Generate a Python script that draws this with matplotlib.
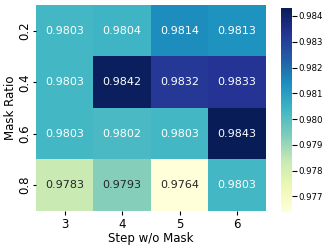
import numpy as np
import matplotlib
matplotlib.use('Agg')
import matplotlib.pyplot as plt
import seaborn as sns

# data
steps = ['3', '4', '5', '6']
ratios = ['0.2', '0.4', '0.6', '0.8']
row_02 = [0.9803, 0.9804, 0.9814, 0.9813]
row_04 = [0.9803, 0.9842, 0.9832, 0.9833]
row_06 = [0.9803, 0.9802, 0.9803, 0.9843]
row_08 = [0.9783, 0.9793, 0.9764, 0.9803]

vals = np.array([row_02, row_04, row_06, row_08])

fig = plt.figure(figsize=(3.32, 2.49), dpi=100)
ax = fig.add_axes([0.108, 0.153, 0.693, 0.827])
cax = fig.add_axes([0.847, 0.149, 0.034, 0.818])

sns.heatmap(vals, ax=ax, cbar_ax=cax, cmap='YlGnBu', annot=True, fmt='.4f',
            annot_kws={'fontsize': 8}, xticklabels=steps, yticklabels=ratios)

ax.set_xlabel('Step w/o Mask', fontsize=8.5, labelpad=1)
ax.set_ylabel('Mask Ratio', fontsize=8.5, labelpad=1)
ax.tick_params(axis='x', labelsize=8.5, pad=2, length=3)
ax.tick_params(axis='y', labelsize=8.5, pad=1, length=2.5)
ax.set_yticklabels(ratios, rotation=90, va='center')
cax.tick_params(labelsize=6.2, pad=1)
cax.yaxis.set_major_locator(matplotlib.ticker.MultipleLocator(0.001))
cax.yaxis.set_major_formatter(matplotlib.ticker.FormatStrFormatter('%.3f'))

plt.savefig('out.png', dpi=100)
